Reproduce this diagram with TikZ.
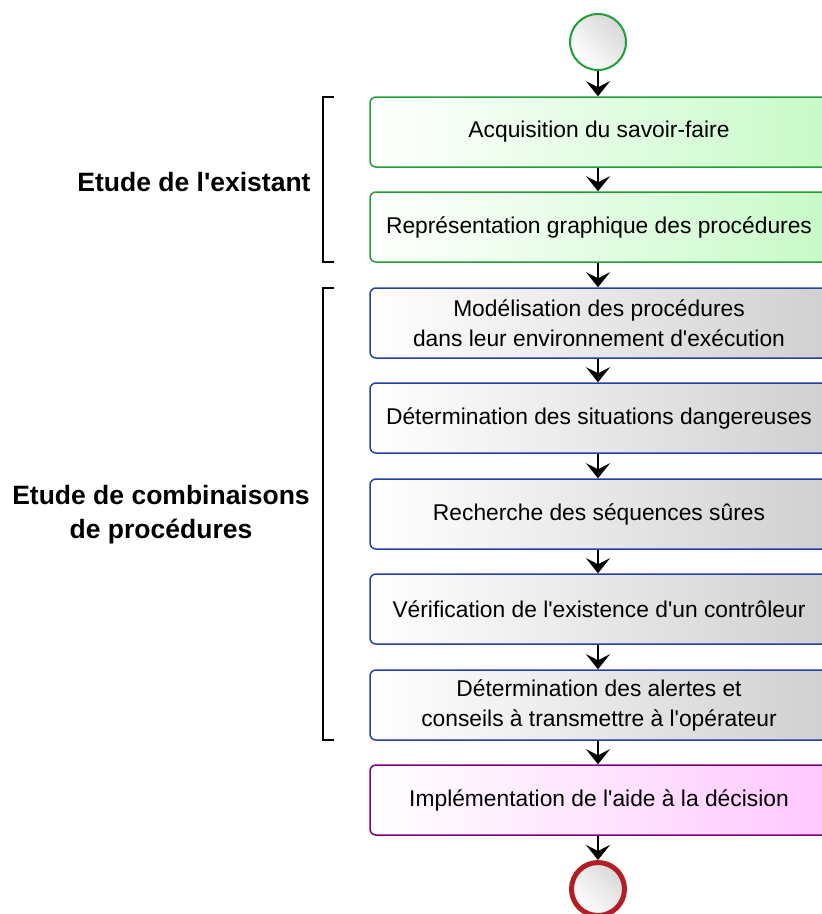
\documentclass[tikz,border=0pt]{standalone}
\usepackage{fontspec}
\setmainfont{Liberation Sans}
\usetikzlibrary{arrows.meta}

\definecolor{stepgreen}{RGB}{30,160,55}
\definecolor{stepblue}{RGB}{35,65,165}
\definecolor{steppurple}{RGB}{125,0,125}
\definecolor{stopred}{RGB}{178,30,35}
\newcommand{\ap}{\textquotesingle}

\tikzset{
    stepbox/.style={draw, rounded corners=6pt, line width=1.5pt, minimum width=458pt,
        minimum height=70pt, inner sep=0pt, align=center,
        font=\fontsize{22.8}{30}\selectfont},
    greenbox/.style={stepbox, draw=stepgreen, left color=white, right color={rgb,255:red,200;green,250;blue,200}},
    bluebox/.style={stepbox, draw=stepblue, left color=white, right color={rgb,255:red,208;green,208;blue,208}},
    purplebox/.style={stepbox, draw=steppurple, left color=white, right color={rgb,255:red,255;green,200;blue,255}},
    startdot/.style={circle, draw=stepgreen, line width=2pt, minimum size=56pt, inner sep=0pt,
        left color=white, right color=gray!30, shading angle=135},
    stopdot/.style={circle, draw=stopred, line width=5pt, minimum size=53pt, inner sep=0pt,
        left color=white, right color=gray!30, shading angle=135},
    flow/.style={-{Stealth[length=15pt,width=24pt,inset=6pt]}, line width=2pt},
    phase/.style={align=center, font=\bfseries\fontsize{26.5}{34}\selectfont},
    bracket/.style={line width=1.5pt}
}

\begin{document}
\begin{tikzpicture}[x=1pt, y=-1pt]
    \useasboundingbox (0, 0) rectangle (822, 914);

    % start and end
    \node[startdot] (start) at (598, 42) {};
    \node[stopdot] (stop) at (598, 889) {};

    % steps
    \node[greenbox] (acq) at (599, 132) {Acquisition du savoir-faire};
    \node[greenbox] (repr) at (599, 227) {Représentation graphique des procédures};
    \node[bluebox] (model) at (599, 323) {Modélisation des procédures\\dans leur environnement d\ap exécution};
    \node[bluebox] (danger) at (599, 418) {Détermination des situations dangereuses};
    \node[bluebox] (seq) at (599, 514) {Recherche des séquences sûres};
    \node[bluebox] (ctrl) at (599, 609) {Vérification de l\ap existence d\ap un contrôleur};
    \node[bluebox] (alert) at (599, 705) {Détermination des alertes et\\conseils à transmettre à l\ap opérateur};
    \node[purplebox] (impl) at (599, 800) {Implémentation de l\ap aide à la décision};

    % arrows
    \draw[flow] (start) -- (start |- acq.north);
    \draw[flow] (acq.south -| start) -- (start |- repr.north);
    \draw[flow] (repr.south -| start) -- (start |- model.north);
    \draw[flow] (model.south -| start) -- (start |- danger.north);
    \draw[flow] (danger.south -| start) -- (start |- seq.north);
    \draw[flow] (seq.south -| start) -- (start |- ctrl.north);
    \draw[flow] (ctrl.south -| start) -- (start |- alert.north);
    \draw[flow] (alert.south -| start) -- (start |- impl.north);
    \draw[flow] (impl.south -| start) -- (stop);

    % phases
    \draw[bracket] (334, 97) -- (323, 97) -- (323, 262) -- (334, 262);
    \node[phase] (existant) at (194, 182) {Etude de l\ap existant};
    \draw[bracket] (334, 288) -- (323, 288) -- (323, 740) -- (334, 740);
    \node[phase] (combi) at (161, 515) {Etude de combinaisons\\de procédures};
\end{tikzpicture}
\end{document}
